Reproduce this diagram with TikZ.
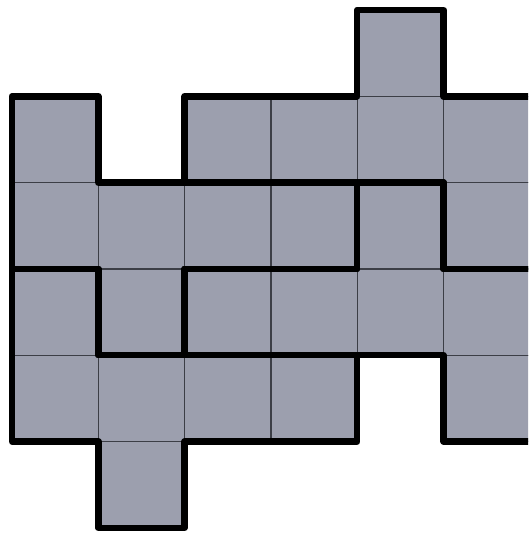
\documentclass[tikz,border=0pt]{standalone}
\definecolor{cellfill}{RGB}{156,159,174}
\definecolor{thinline}{RGB}{60,62,70}
\tikzset{
  cellbox/.style={fill=cellfill, draw=thinline, line width=1.4pt},
  piece/.style={draw=black, line width=6.5pt, line join=round, line cap=round}
}
\begin{document}
\begin{tikzpicture}
\useasboundingbox (0pt,0pt) rectangle (528pt,-534pt);
\clip (0pt,0pt) rectangle (528pt,-534pt);
\begin{scope}[shift={(12pt,-10pt)}, x=86.3pt, y=-86.3pt]
  % cells
  \foreach \c/\r in {4/0,
                     0/1,2/1,3/1,4/1,5/1,
                     0/2,1/2,2/2,3/2,4/2,5/2,
                     0/3,1/3,2/3,3/3,4/3,5/3,
                     0/4,1/4,2/4,3/4,5/4,
                     1/5}{
    \path[cellbox] (\c,\r) rectangle ++(1,1);
  }
  % piece A
  \draw[piece] (0,1) -- (1,1) -- (1,2) -- (4,2) -- (4,3) -- (2,3) -- (2,4) -- (1,4) -- (1,3) -- (0,3) -- cycle;
  % piece B (right side cut off)
  \draw[piece] (6,3) -- (5,3) -- (5,2) -- (2,2) -- (2,1) -- (4,1) -- (4,0) -- (5,0) -- (5,1) -- (6.2,1);
  % piece C
  \draw[piece] (6.2,3) -- (5,3) -- (5,2) -- (4,2) -- (4,3) -- (2,3) -- (2,4) -- (5,4) -- (5,5) -- (6.2,5);
  % piece D
  \draw[piece] (0,3) -- (1,3) -- (1,4) -- (4,4) -- (4,5) -- (2,5) -- (2,6) -- (1,6) -- (1,5) -- (0,5) -- cycle;
\end{scope}
\end{tikzpicture}
\end{document}
